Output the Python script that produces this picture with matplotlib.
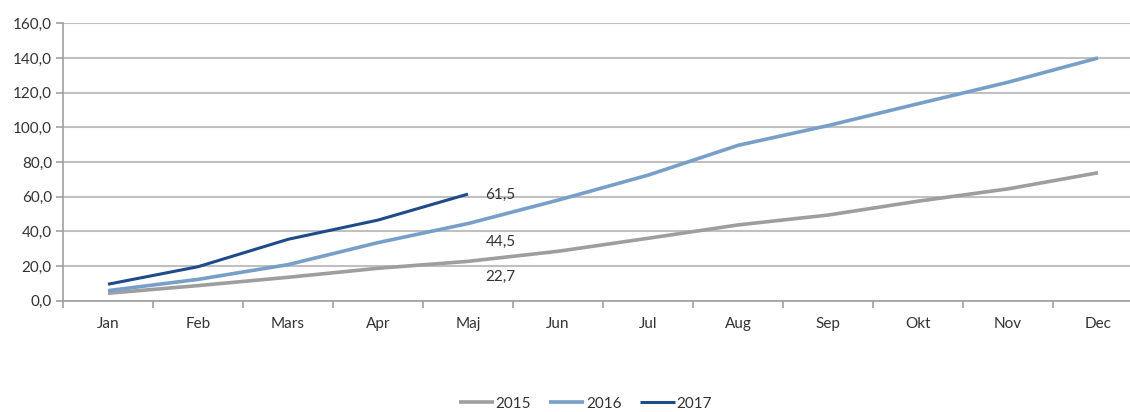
import matplotlib as mpl
mpl.use('Agg')
import matplotlib.pyplot as plt
from matplotlib.ticker import FuncFormatter, FixedLocator

# Data
months   = ["Jan", "Feb", "Mars", "Apr", "Maj", "Jun", "Jul", "Aug", "Sep", "Okt", "Nov", "Dec"]
v2015    = [4.3, 8.7, 13.5, 18.7, 22.7, 28.5, 36.0, 43.7, 49.4, 57.4, 64.5, 73.8]
v2016    = [5.8, 12.3, 20.8, 33.5, 44.5, 58.0, 72.4, 89.6, 101.0, 113.6, 126.0, 140.0]
v2017    = [9.5, 19.6, 35.4, 46.5, 61.5]
labels   = ["2015", "2016", "2017"]
end_vals = ["61,5", "44,5", "22,7"]

COL_2015 = "#9e9e9e"
COL_2016 = "#779fca"
COL_2017 = "#1f4b8a"
GRID     = "#c0c0c0"
TXT      = "#333333"

plt.rcParams['font.family'] = ['Lato', 'DejaVu Sans']

fig = plt.figure(figsize=(11.3, 4.12), dpi=100)
ax = fig.add_axes([63 / 1130, 1 - 300.7 / 412, 1080 / 1130, 277.4 / 412])

x = list(range(len(months)))
ax.plot(x, v2015, color=COL_2015, lw=2.6, label=labels[0], solid_capstyle='butt')
ax.plot(x, v2016, color=COL_2016, lw=2.6, label=labels[1], solid_capstyle='butt')
ax.plot(x[:len(v2017)], v2017, color=COL_2017, lw=2.2, label=labels[2], solid_capstyle='butt')

# value labels next to the last 2017 point
for txt, yv in zip(end_vals, [61.0, 34.0, 13.7]):
    ax.text(4.36, yv, txt, ha='center', va='center', fontsize=11, color=TXT)

ax.set_xlim(-0.5, 11.5)
ax.set_ylim(0, 160)
ax.set_yticks(range(0, 161, 20))
ax.yaxis.set_major_formatter(FuncFormatter(lambda v, p: f"{v:.1f}".replace(".", ",")))
ax.set_xticks(x)
ax.set_xticklabels(months)
ax.xaxis.set_minor_locator(FixedLocator([i - 0.5 for i in range(13)]))

ax.tick_params(axis='x', which='major', length=0, pad=12, labelsize=11, colors=TXT)
ax.tick_params(axis='x', which='minor', length=5, width=1.2, color="#a0a0a0", direction='out')
ax.tick_params(axis='y', length=5, width=1.2, color="#a0a0a0", pad=3, labelsize=11, labelcolor=TXT)

ax.grid(axis='y', color=GRID, lw=1.5)
ax.set_axisbelow(True)
for s in ['top', 'right']:
    ax.spines[s].set_visible(False)
for s in ['left', 'bottom']:
    ax.spines[s].set_color("#a0a0a0")
    ax.spines[s].set_linewidth(1.2)

fig.legend(loc='center', bbox_to_anchor=(0.518, 0.02), ncol=3, frameon=False,
           fontsize=11, handlelength=2.3, handletextpad=0.1, columnspacing=1.2,
           labelcolor=TXT)

fig.savefig("out.png", dpi=100)
